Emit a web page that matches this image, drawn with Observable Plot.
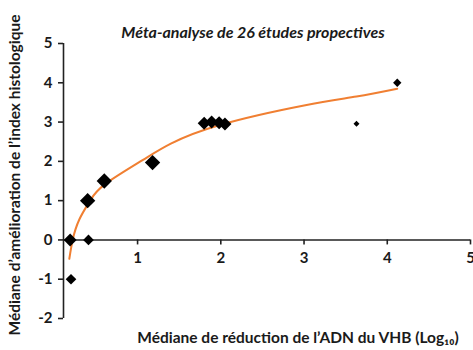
<!DOCTYPE html>
<html>
<head>
<meta charset="utf-8">
<script src="https://cdn.jsdelivr.net/npm/d3@7"></script>
<script src="https://cdn.jsdelivr.net/npm/@observablehq/plot@0.6"></script>
<style>
  html, body { margin: 0; padding: 0; background: #fff; }
</style>
</head>
<body>
<div id="chart"></div>
<script>
// Études (réduction médiane ADN VHB log10, amélioration médiane index histologique)
const etudeX = [0.19, 0.20, 0.40, 0.41, 0.60, 1.18, 1.80, 1.89, 1.98, 2.05, 3.63, 4.12];
const etudeY = [0.00, -1.00, 1.00, 0.00, 1.50, 1.97, 2.97, 3.00, 2.98, 2.95, 2.96, 4.00];
const etudePoids = [4, 3, 5, 3, 5, 5, 4, 4, 4, 4, 1, 2];

// Courbe de tendance
const courbeX = [0.18, 0.22, 0.30, 0.43, 0.61, 1.06, 1.40, 2.00, 3.00, 3.63, 4.12];
const courbeY = [-0.48, 0.00, 0.52, 1.00, 1.42, 2.03, 2.45, 2.93, 3.42, 3.65, 3.85];

const xTicks = [1, 2, 3, 4, 5];
const yTicks = [-2, -1, 0, 1, 2, 3, 4, 5];
const xMin = 0.11, xMax = 5, yMin = -2, yMax = 5;

const titre = "Méta-analyse de 26 études propectives";
const labelX = "Médiane de réduction de l’ADN du VHB (Log₁₀)";
const labelY = "Médiane d’amélioration de l’index histologique";

const points = etudeX.map((x, i) => ({x, y: etudeY[i], w: etudePoids[i]}));
const courbe = courbeX.map((x, i) => ({x, y: courbeY[i]}));

const W = 473, H = 350, mT = 43, mB = 32, mL = 63, mR = 3;
const axisShift = -((0 - yMin) * (H - mT - mB) / (yMax - yMin));
const fmt = d => String(d);

const chart = Plot.plot({
  width: W, height: H,
  marginTop: mT, marginBottom: mB, marginLeft: mL, marginRight: mR,
  x: {domain: [xMin, xMax], label: null},
  y: {domain: [yMin, yMax], label: null},
  r: {type: "linear", domain: [1, 5], range: [2.7, 6.9]},
  style: {fontFamily: "Lato, sans-serif", fontWeight: "bold", fontSize: "15px", color: "#1a1a1a", background: "#fff", overflow: "visible"},
  marks: [
    Plot.ruleX([xMin], {y1: yMin, y2: yMax, stroke: "#222", strokeWidth: 1.6}),
    Plot.ruleY([0], {x1: xMin, x2: xMax, stroke: "#222", strokeWidth: 1.6}),
    Plot.axisY(yTicks, {anchor: "left", label: null, tickFormat: fmt, tickSize: 5, tickPadding: 6, strokeWidth: 1.6, stroke: "#222", fill: "#1a1a1a", fontWeight: "bold", fontSize: 15}),
    Plot.axisX(xTicks, {anchor: "bottom", label: null, tickFormat: fmt, dy: axisShift, tickSize: 5, tickPadding: 7, strokeWidth: 1.6, stroke: "#222", fill: "#1a1a1a", fontWeight: "bold", fontSize: 15}),
    Plot.line(courbe, {x: "x", y: "y", curve: "natural", stroke: "#F07F32", strokeWidth: 2}),
    Plot.dot(points, {x: "x", y: "y", r: "w", symbol: "diamond2", fill: "#000", stroke: "none"}),
    Plot.text([titre], {frameAnchor: "top", textAnchor: "middle", lineAnchor: "middle", dx: -14, dy: -11, fontStyle: "italic", fontWeight: "bold", fontSize: 16, fill: "#1a1a1a"}),
    Plot.text([labelX], {frameAnchor: "bottom", textAnchor: "middle", lineAnchor: "middle", dx: 31, dy: 20, fontWeight: "bold", fontSize: 15.5, fill: "#1a1a1a"}),
    Plot.text([labelY], {frameAnchor: "left", textAnchor: "middle", lineAnchor: "middle", dx: -48, dy: -6, rotate: -90, fontWeight: "bold", fontSize: 15.5, fill: "#1a1a1a"})
  ]
});
document.getElementById("chart").appendChild(chart);
</script>
</body>
</html>
